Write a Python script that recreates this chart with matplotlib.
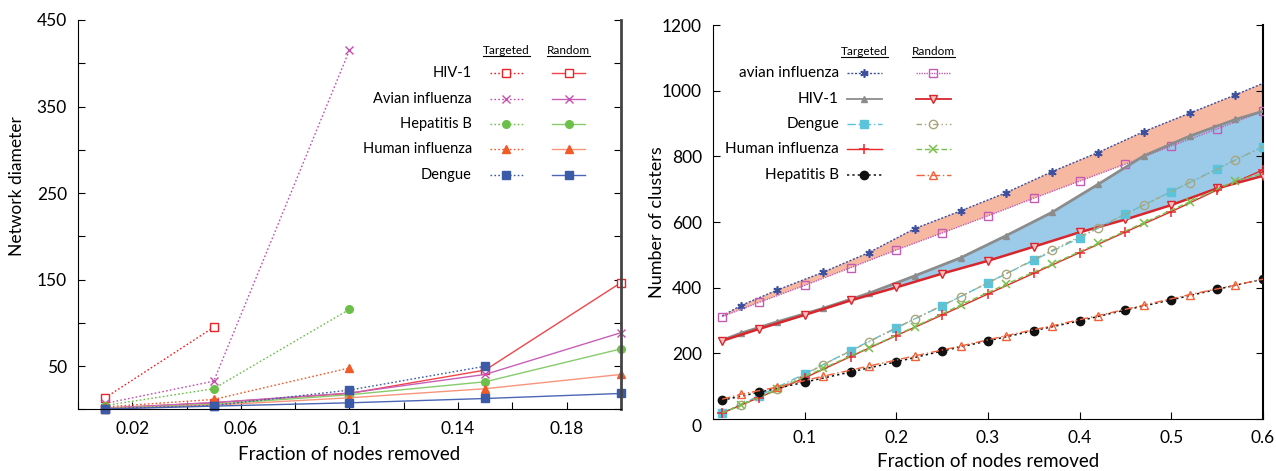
import numpy as np
import matplotlib
matplotlib.use('Agg')
import matplotlib.pyplot as plt

plt.rcParams['font.family'] = ['Lato', 'DejaVu Sans']

# ---- left panel: network diameter ----
frac_left = [0.01, 0.05, 0.1, 0.15, 0.2]
left_names = ['HIV-1', 'Avian influenza', 'Hepatitis B', 'Human influenza', 'Dengue']

# targeted removal (series stop where the network breaks apart)
hiv_targ = [13.5, 95]
avian_targ = [7, 32.7, 415]
hepb_targ = [4.6, 24, 115.7]
human_targ = [3, 11.6, 48]
dengue_targ = [1, 4.6, 22.4, 50]

# random removal
hiv_rand = [1.5, 7.7, 18.5, 45.5, 146.5]
avian_rand = [1.5, 8, 19, 40.5, 88.7]
hepb_rand = [1, 6, 17, 32, 70]
human_rand = [1, 5, 13.5, 24, 40.5]
dengue_rand = [0.5, 3.9, 7.7, 12.7, 18.5]

# ---- right panel: number of clusters ----
frac_a = [0.01, 0.05, 0.1, 0.15, 0.2, 0.25, 0.3, 0.35, 0.4, 0.45, 0.5, 0.55, 0.6]
frac_b = [0.01, 0.03, 0.07, 0.12, 0.17, 0.22, 0.27, 0.32, 0.37, 0.42, 0.47, 0.52, 0.57, 0.6]

avian_t = [314, 345, 393, 447, 507, 580, 634, 690, 754, 812, 876, 932, 988, 1023]
avian_r = [312, 355, 407, 461, 515, 567, 619, 673, 725, 777, 832, 884, 938]
hiv_t = [240, 261, 296, 337, 383, 436, 491, 559, 630, 715, 802, 862, 913, 938]
hiv_r = [238, 274, 317, 361, 401, 443, 482, 525, 569, 608, 652, 703, 741]
dengue_t = [18, 70, 137, 208, 278, 345, 415, 484, 552, 625, 693, 763, 830]
dengue_r = [18, 41, 90, 165, 235, 305, 373, 443, 514, 583, 652, 720, 789, 830]
human_t = [18, 65, 125, 190, 254, 317, 381, 444, 507, 570, 632, 698, 759]
human_r = [18, 41, 90, 154, 217, 281, 347, 411, 472, 535, 598, 662, 726, 748]
hepb_t = [57, 81, 112, 143, 174, 207, 238, 269, 299, 332, 363, 395, 426]
hepb_r = [60, 75, 97, 130, 161, 192, 222, 254, 284, 315, 347, 379, 408, 426]

right_names = ['avian influenza', 'HIV-1', 'Dengue', 'Human influenza', 'Hepatitis B']

fig = plt.figure(figsize=(12.76, 4.71), dpi=100)
ax1 = fig.add_axes([0.0611, 0.1306, 0.4255, 0.827])
ax2 = fig.add_axes([0.5588, 0.1106, 0.431, 0.8357])

# left panel
dot = (0, (1.2, 1.6))
colors = ['#ec2227', '#c44fb0', '#6cc04a', '#f15a29', '#3b5ba9']
rand_line = ['#f0464b', '#c860b8', '#86cc6c', '#f7957c', '#4a66b4']
markers = ['s', 'x', 'o', '^', 's']
faces = ['white', '#c44fb0', '#6cc04a', '#f15a29', '#3b5ba9']
targ_all = [hiv_targ, avian_targ, hepb_targ, human_targ, dengue_targ]
rand_all = [hiv_rand, avian_rand, hepb_rand, human_rand, dengue_rand]

left_t, left_r = [], []
for i in range(5):
    n = len(targ_all[i])
    lt, = ax1.plot(frac_left[:n], targ_all[i], ls=dot, lw=1, color=colors[i],
                   marker=markers[i], ms=5.5, mfc=faces[i], mec=colors[i], mew=1, clip_on=False)
    lr, = ax1.plot(frac_left, rand_all[i], ls='-', lw=1, color=rand_line[i],
                   marker=markers[i], ms=5.5, mfc=faces[i], mec=colors[i], mew=1, clip_on=False)
    left_t.append((lt, dot))
    left_r.append((lr, '-'))

ax1.set_xlim(0, 0.2)
ax1.set_ylim(0, 450)
ax1.set_xticks(np.arange(0, 0.201, 0.02))
ax1.set_xticklabels(['', '0.02', '', '0.06', '', '0.1', '', '0.14', '', '0.18', ''])
ax1.set_yticks(np.arange(0, 451, 50))
ax1.set_yticklabels(['', '50', '', '150', '', '250', '', '350', '', '450'])
ax1.tick_params(axis='both', direction='in', length=5, labelsize=12.5, pad=8)
ax1.tick_params(axis='y', right=True)
ax1.spines['top'].set_visible(False)
ax1.spines['right'].set_color('#444444')
ax1.spines['right'].set_linewidth(2)
ax1.set_xlabel('Fraction of nodes removed', fontsize=13.5, labelpad=7)
ax1.set_ylabel('Network diameter', fontsize=12.5)
ax1.yaxis.set_label_coords(-0.097, 0.5725)

# right panel
ax2.fill(np.r_[frac_b, frac_a[::-1]], np.r_[avian_t, avian_r[::-1]],
         color='#f6b8a0', lw=0, zorder=1)
ax2.fill(np.r_[frac_b, frac_a[::-1]], np.r_[hiv_t, hiv_r[::-1]],
         color='#9ccbea', lw=0, zorder=1)

mk_b = list(range(1, 13))
r_t, r_r = [], []


def rplot(x, y, ls, store, **kw):
    line, = ax2.plot(x, y, ls=ls, zorder=3, **kw)
    store.append((line, ls))


rplot(frac_b, avian_t, (0, (1.5, 1.2)), r_t, lw=1, color='#3d4f9f', marker=(6, 2, 0),
      ms=6, mew=1.2, markevery=mk_b)
rplot(frac_a, avian_r, (0, (1, 0.8)), r_r, lw=1, color='#c45cb4', marker='s',
      ms=6, mfc='none', mew=1)
rplot(frac_b, hiv_t, '-', r_t, lw=2, color='#8c8c8c', marker='^', ms=4, markevery=mk_b)
rplot(frac_a, hiv_r, '-', r_r, lw=1.8, color='#d8262c', marker='v', ms=6, mfc='#f8c0c0', mew=1)
rplot(frac_a, dengue_t, (0, (6, 2, 1, 2)), r_t, lw=1, color='#5bc3da', marker='s', ms=6)
rplot(frac_b, dengue_r, (0, (4, 2, 1, 2, 1, 2)), r_r, lw=1, color='#a9a67c', marker='o',
      ms=6, mfc='none', mew=1, markevery=mk_b)
rplot(frac_a, human_t, '-', r_t, lw=1, color='#e8262b', marker='+', ms=7, mew=1.1)
rplot(frac_b, human_r, (0, (4, 2)), r_r, lw=1, color='#78c04a', marker='x',
      ms=6, mew=1.1, markevery=mk_b)
rplot(frac_a, hepb_t, (0, (1.5, 2)), r_t, lw=1.1, color='#111111', marker='o', ms=6)
rplot(frac_b, hepb_r, (0, (6, 2, 1, 2)), r_r, lw=1, color='#f2623a', marker='^',
      ms=6, mfc='none', mew=1, markevery=mk_b)

ax2.set_xlim(0, 0.6)
ax2.set_ylim(0, 1200)
ax2.set_xticks([0.1, 0.2, 0.3, 0.4, 0.5, 0.6])
ax2.set_xticklabels(['0.1', '0.2', '0.3', '0.4', '0.5', '0.6'])
ax2.set_yticks(np.arange(0, 1201, 200))
ax2.tick_params(axis='both', direction='in', length=5, labelsize=12.5, pad=8)
ax2.tick_params(axis='y', right=True)
ax2.spines['top'].set_visible(False)
ax2.spines['right'].set_linewidth(1.5)
ax2.set_xlabel('Fraction of nodes removed', fontsize=13.5, labelpad=5)
ax2.set_ylabel('Number of clusters', fontsize=13, labelpad=-2)
ax2.get_yticklabels()[0].set_va('top')


def draw_legend(ax, names, targ, rand, xlab, xt, xr, yhead, y0, dy, fs, hfs):
    heads = []
    for word, (a, b) in (('Targeted', xt), ('Random', xr)):
        heads.append(ax.text((a + b) / 2, yhead, word, transform=ax.transAxes,
                             ha='center', va='center', fontsize=hfs))
    for i, name in enumerate(names):
        y = y0 - i * dy
        ax.text(xlab, y, name, transform=ax.transAxes, ha='right', va='center', fontsize=fs)
        for (src, ls), (a, b) in ((targ[i], xt), (rand[i], xr)):
            ax.plot([a, b], [y, y], transform=ax.transAxes, clip_on=False,
                    color=src.get_color(), ls=ls, lw=min(src.get_linewidth(), 1.3))
            ax.plot([(a + b) / 2], [y], transform=ax.transAxes, clip_on=False, ls='none',
                    marker=src.get_marker(), ms=src.get_markersize(), mfc=src.get_markerfacecolor(),
                    mec=src.get_markeredgecolor(), mew=src.get_markeredgewidth())
    # underline the column headers
    fig.canvas.draw()
    inv = ax.transAxes.inverted()
    for h in heads:
        bb = h.get_window_extent().transformed(inv)
        ax.plot([bb.x0, bb.x1], [bb.y0, bb.y0], transform=ax.transAxes, clip_on=False,
                color='black', lw=0.8)


draw_legend(ax1, left_names, left_t, left_r, 0.7256, (0.759, 0.8195), (0.873, 0.934),
            0.921, 0.863, 0.065, 10.5, 8.5)
draw_legend(ax2, right_names, r_t, r_r, 0.229, (0.243, 0.307), (0.369, 0.432),
            0.933, 0.878, 0.0645, 11, 8.5)

fig.savefig('out.png', dpi=100)
